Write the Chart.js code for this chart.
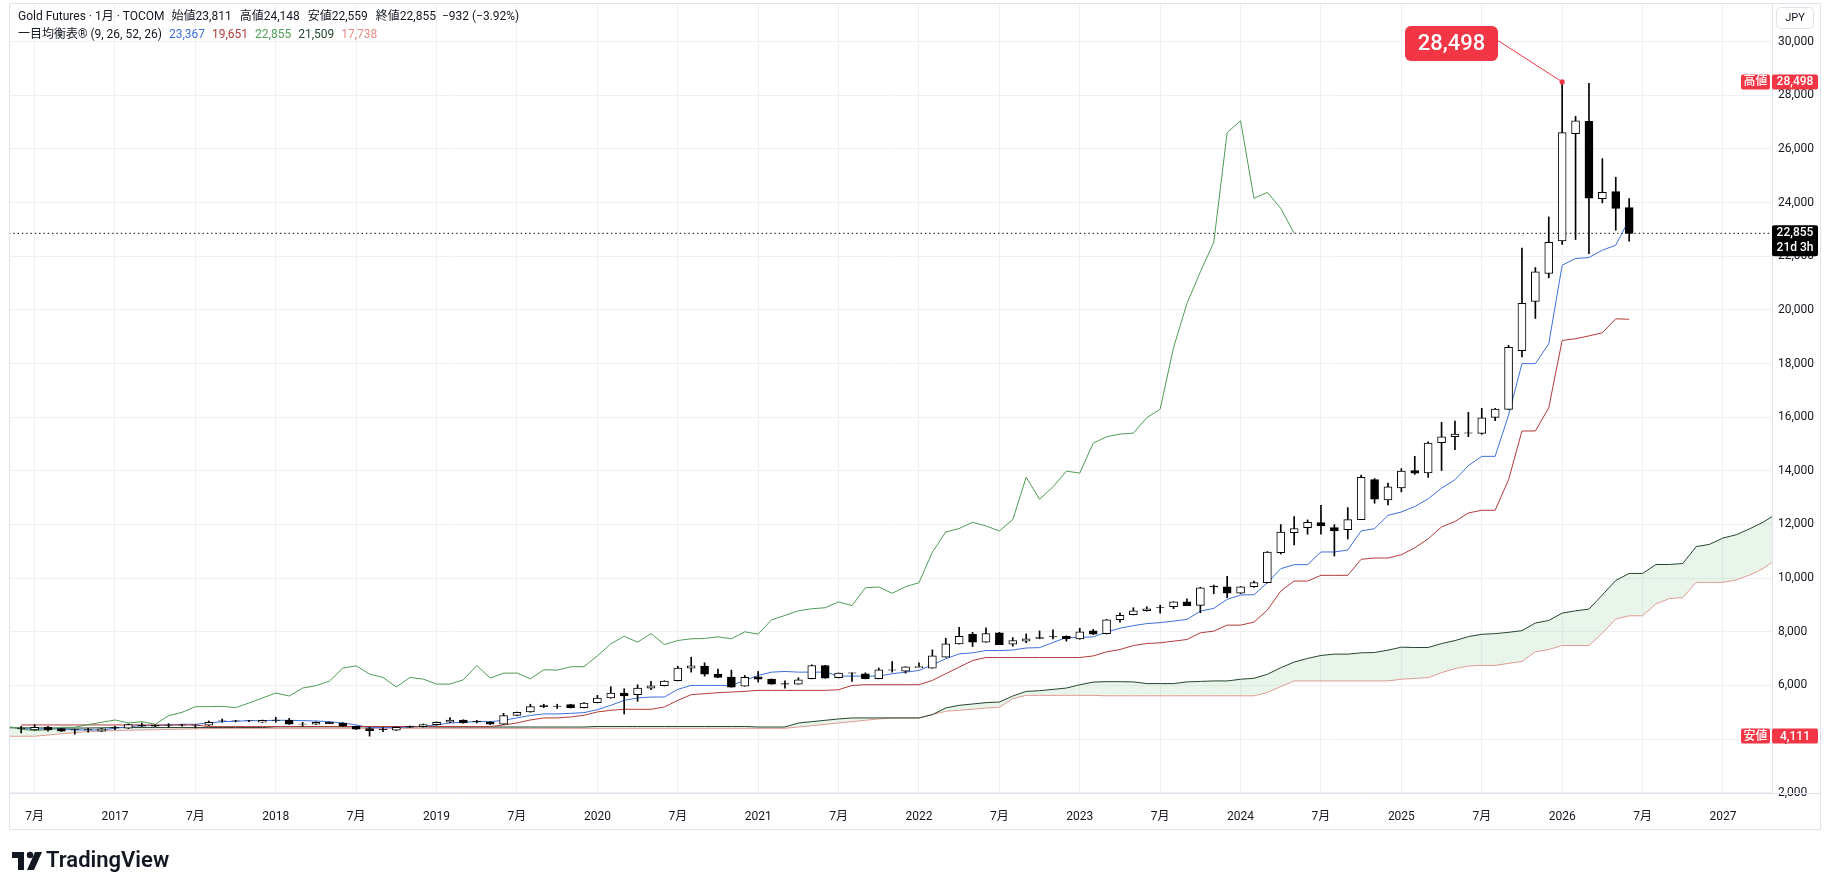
<!DOCTYPE html>
<html><head><meta charset="utf-8">
<script src="https://cdn.jsdelivr.net/npm/chart.js@4.4.1/dist/chart.umd.min.js"></script>
<style>html,body{margin:0;padding:0;background:#fff;overflow:hidden}</style>
</head><body><canvas id="c" width="1825" height="891"></canvas>
<script>
// ---------- DATA ----------
const candleMonths = [
'2016-06','2016-07','2016-08','2016-09','2016-10','2016-11','2016-12',
'2017-01','2017-02','2017-03','2017-04','2017-05','2017-06','2017-07','2017-08','2017-09','2017-10','2017-11','2017-12',
'2018-01','2018-02','2018-03','2018-04','2018-05','2018-06','2018-07','2018-08','2018-09','2018-10','2018-11','2018-12',
'2019-01','2019-02','2019-03','2019-04','2019-05','2019-06','2019-07','2019-08','2019-09','2019-10','2019-11','2019-12',
'2020-01','2020-02','2020-03','2020-04','2020-05','2020-06','2020-07','2020-08','2020-09','2020-10','2020-11','2020-12',
'2021-01','2021-02','2021-03','2021-04','2021-05','2021-06','2021-07','2021-08','2021-09','2021-10','2021-11','2021-12',
'2022-01','2022-02','2022-03','2022-04','2022-05','2022-06','2022-07','2022-08','2022-09','2022-10','2022-11','2022-12',
'2023-01','2023-02','2023-03','2023-04','2023-05','2023-06','2023-07','2023-08','2023-09','2023-10','2023-11','2023-12',
'2024-01','2024-02','2024-03','2024-04','2024-05','2024-06','2024-07','2024-08','2024-09','2024-10','2024-11','2024-12',
'2025-01','2025-02','2025-03','2025-04','2025-05','2025-06','2025-07','2025-08','2025-09','2025-10','2025-11','2025-12',
'2026-01','2026-02','2026-03','2026-04','2026-05','2026-06'];

const open = [
4390,4341,4440,4390,4350,4350,4292,
4425,4403,4514,4514,4524,4524,4524,4514,4685,4685,4685,4626,
4710,4700,4562,4552,4626,4601,4477,4390,4363,4329,4477,4465,
4539,4626,4712,4660,4638,4552,4885,5009,5245,5231,5283,5172,
5357,5531,5717,5655,5902,5989,6175,6645,6719,6422,6311,5976,
6323,6237,6065,6051,6249,6744,6286,6469,6435,6249,6581,6534,
6660,6645,7054,7549,7908,7611,7957,7536,7648,7784,7822,7834,
7738,8032,7925,8447,8634,8784,8906,8933,9120,8983,9700,9680,
9435,9680,9830,10950,11697,11883,12070,11883,11809,12182,13676,12920,
13360,14010,13925,15052,15275,15415,15398,15992,16289,18478,20313,21356,
22572,26572,27031,24150,24411,23811];
const high = [
4477,4539,4477,4400,4370,4403,4400,
4477,4560,4601,4530,4576,4550,4530,4675,4750,4700,4700,4710,
4811,4774,4626,4640,4640,4610,4490,4440,4428,4460,4490,4560,
4640,4800,4720,4700,4650,4960,5010,5300,5300,5300,5300,5360,
5630,5952,5877,6026,6150,6175,6719,7054,6843,6608,6571,6373,
6521,6240,6175,6286,6770,6750,6465,6470,6470,6650,6893,6700,
6843,7326,7759,8168,7982,8143,7980,7784,7921,8032,8069,7850,
8131,8090,8460,8709,8896,8933,8995,9120,9232,9660,9740,10066,
9690,9892,10990,11996,12294,12170,12718,11996,12630,13838,13714,13539,
14087,14540,15083,15807,15856,16178,16330,16330,18680,22300,21580,23467,
28498,27218,28447,25640,24945,24148];
const low = [
4230,4330,4292,4280,4180,4255,4280,
4353,4390,4470,4465,4440,4480,4415,4505,4626,4640,4650,4620,
4626,4550,4477,4545,4570,4470,4360,4111,4280,4320,4430,4450,
4520,4610,4590,4600,4540,4545,4870,5000,5172,5140,5160,5160,
5350,5525,4937,5407,5840,5980,6170,6496,6348,6290,5930,5970,
6125,6045,5902,6045,6245,6270,6280,6150,6245,6245,6496,6460,
6660,6640,7050,7540,7450,7605,7520,7462,7590,7740,7738,7650,
7720,7900,7920,8360,8630,8770,8696,8858,8970,8710,9418,9269,
9418,9650,9820,10900,11236,11635,11635,10825,11460,12180,12792,12730,
13216,13865,13751,14013,14792,15275,15360,15870,16285,18244,19679,21194,
22436,22622,22100,23988,22970,22559];
const close = [
4378,4440,4341,4292,4341,4341,4378,
4415,4539,4477,4477,4514,4514,4514,4626,4675,4675,4675,4700,
4700,4552,4552,4626,4576,4477,4366,4316,4353,4440,4440,4539,
4626,4712,4601,4650,4552,4873,4997,5208,5209,5221,5172,5345,
5531,5717,5605,5902,5989,6162,6645,6732,6422,6298,5939,6298,
6237,6051,6051,6212,6744,6274,6459,6459,6249,6583,6571,6694,
6700,7103,7549,7834,7611,7933,7524,7675,7738,7750,7812,7738,
8000,7912,8447,8609,8784,8858,8896,9113,8976,9642,9671,9435,
9680,9830,10970,11720,11850,12080,11946,11759,12182,13760,12940,13400,
13990,13915,15030,15270,15370,15405,15980,16300,18600,20240,21420,22520,
26609,27050,24160,24379,23787,22855];

// 転換線 (9) and 基準線 (26), same months as candles
const tenkan = [
4378,4378,4378,4378,4341,4341,4341,
4403,4465,4502,4502,4527,4552,4552,4601,4650,4663,4688,4688,
4700,4700,4688,4675,4650,4601,4527,4428,4428,4428,4453,4477,
4527,4601,4626,4650,4650,4700,4790,4880,4937,4937,4960,4986,
5097,5258,5444,5531,5568,5568,5853,6001,6001,6001,6001,6187,
6373,6496,6521,6496,6496,6496,6348,6348,6348,6348,6434,6496,
6558,6769,6992,7177,7215,7301,7302,7320,7395,7410,7600,7790,
7790,7810,7985,8135,8230,8305,8340,8398,8460,8771,8871,9207,
9369,9381,9829,10352,10502,10502,10975,10975,11049,11759,11846,12340,
12466,12670,12958,13355,13666,14195,14540,14540,16079,17996,17996,18738,
21666,21914,21951,22225,22411,23367];
const kijun = [
4527,4527,4527,4527,4527,4527,4527,
4527,4527,4527,4527,4527,4527,4527,4465,4465,4465,4465,4465,
4465,4465,4465,4465,4465,4465,4465,4465,4465,4465,4465,4465,
4465,4465,4465,4465,4465,4527,4601,4713,4788,4788,4825,4887,
5011,5073,5110,5110,5110,5197,5444,5655,5692,5729,5754,5778,
5816,5816,5816,5816,5816,5816,5840,6001,6026,6026,6026,6026,
6026,6187,6435,6682,6930,7040,7040,7040,7040,7040,7040,7040,
7040,7100,7250,7339,7488,7563,7588,7650,7712,7962,8024,8248,
8248,8360,8808,9518,9892,9892,10104,10104,10104,10702,10750,10750,
10870,11131,11465,11910,12110,12430,12530,12530,13666,15485,15485,16351,
18862,18924,19030,19147,19666,19651];

// 先行スパン (plotted 25 months ahead)
const cloudMonths = ['2016-05'].concat(candleMonths, [
'2026-07','2026-08','2026-09','2026-10','2026-11','2026-12',
'2027-01','2027-02','2027-03','2027-04','2027-05']);
const senkouA = [
4420,
4420,4415,4415,4410,4410,4415,4420,
4430,4430,4430,4430,4430,4430,4430,4430,4430,4430,4430,4430,
4460,4460,4460,4460,4460,4460,4460,4460,4460,4460,4460,4460,
4450,4450,4450,4450,4450,4450,4450,4450,4450,4450,4450,4450,
4470,4470,4470,4470,4470,4470,4470,4470,4470,4470,4470,4470,
4450,4450,4450,4600,4650,4700,4750,4788,4788,4788,4788,4788,
4788,4912,5160,5258,5308,5358,5382,5605,5778,5803,5853,5902,
6026,6125,6140,6140,6131,6069,6069,6069,6131,6150,6168,6168,
6230,6267,6415,6662,6871,7006,7117,7167,7167,7216,7228,7315,
7426,7413,7413,7561,7672,7820,7906,7931,7980,8042,8326,8424,
8696,8782,8844,9374,9916,10175,10175,10508,10508,10545,11174,11260,
11494,11618,11840,12086,12400];
const senkouB = [
4106,
4106,4106,4150,4200,4240,4280,4300,
4320,4330,4340,4350,4360,4370,4380,4390,4400,4400,4400,4400,
4400,4400,4400,4400,4400,4400,4400,4400,4400,4400,4400,4400,
4400,4400,4400,4400,4400,4400,4400,4400,4400,4400,4400,4400,
4400,4400,4400,4400,4400,4400,4400,4400,4400,4400,4400,4400,
4400,4400,4400,4450,4500,4550,4600,4650,4700,4750,4788,4788,
4788,4912,5036,5073,5110,5160,5184,5506,5630,5630,5630,5630,
5630,5630,5613,5613,5613,5613,5613,5613,5613,5613,5613,5613,
5613,5613,5736,5958,6168,6168,6168,6168,6168,6168,6168,6168,
6230,6260,6291,6476,6624,6723,6747,6747,6821,6895,7253,7339,
7487,7487,7487,7956,8474,8597,8597,9041,9238,9275,9843,9843,
9843,9929,10115,10361,10700];
const chikouShift = 25;
const legendSpanA = 21509, legendSpanB = 17738;

const xTickMonths = ['2016-07','2017-01','2017-07','2018-01','2018-07','2019-01','2019-07','2020-01','2020-07','2021-01','2021-07',
'2022-01','2022-07','2023-01','2023-07','2024-01','2024-07','2025-01','2025-07','2026-01','2026-07','2027-01'];
const xTickLabels = ['7月','2017','7月','2018','7月','2019','7月','2020','7月','2021','7月',
'2022','7月','2023','7月','2024','7月','2025','7月','2026','7月','2027'];
const yTicks = [2000,4000,6000,8000,10000,12000,14000,16000,18000,20000,22000,24000,26000,28000,30000];

// ---------- helpers ----------
const mx = s => { const [y,m] = s.split('-').map(Number); return (y-2017)*12 + (m-1); };
const fmt = v => Math.round(v).toLocaleString('en-US');
const X_MIN = -7.91, X_MAX = 123.66, Y_MIN = 1990, Y_MAX = 31403;
const FONT = 'Roboto, "Noto Sans CJK JP", sans-serif';
const RED = '#f23645', INK = '#131722', GRID = '#eff0f3';
const C_TEN = '#3f6fdc', C_KIJ = '#b23a3a', C_CHI = '#4f9d55', C_SA = '#25452f', C_SB = '#e59d97';

Chart.defaults.font.family = FONT;
Chart.defaults.color = INK;

const n = close.length;
const bodyColors = close.map((c,i) => c < open[i] ? '#000000' : '#ffffff');
const maxHigh = Math.max(...high), iMax = high.indexOf(maxHigh);
const minLow = Math.min(...low);

const lineDs = (label, pts, color, extra) => Object.assign({
  type:'line', label, data: pts, borderColor: color, borderWidth: 1, pointRadius: 0,
  tension: 0, fill: false, clip: 0, order: 5
}, extra || {});

const datasets = [
  lineDs('先行スパン1', cloudMonths.map((m,i)=>({x:mx(m), y:senkouA[i]})), C_SA,
    {fill:{target:'+1', above:'rgba(76,175,80,0.12)', below:'rgba(242,54,69,0.10)'}, order: 7}),
  lineDs('先行スパン2', cloudMonths.map((m,i)=>({x:mx(m), y:senkouB[i]})), C_SB, {order: 7}),
  lineDs('遅行スパン', candleMonths.map((m,i)=>({x:mx(m)-chikouShift, y:close[i]})), C_CHI),
  lineDs('基準線', candleMonths.map((m,i)=>({x:mx(m), y:kijun[i]})), C_KIJ),
  lineDs('転換線', candleMonths.map((m,i)=>({x:mx(m), y:tenkan[i]})), C_TEN),
  lineDs('終値ライン', [{x:X_MIN, y:close[n-1]}, {x:X_MAX, y:close[n-1]}], '#000', {borderDash:[1.4,2.9], order: 6}),
  { type:'bar', label:'ヒゲ', data: candleMonths.map((m,i)=>({x:mx(m), y:[low[i], high[i]]})),
    backgroundColor:'#000', borderWidth:0, barThickness:1, grouped:false, order:2, clip:0 },
  { type:'bar', label:'実体', data: candleMonths.map((m,i)=>({x:mx(m), y:[open[i], close[i]]})),
    backgroundColor: bodyColors, borderColor:'#000', borderWidth:1, borderSkipped:false,
    barThickness:8, grouped:false, order:1, clip:0 },
  lineDs('高値点', [{x:mx(candleMonths[iMax]), y:maxHigh}], RED, {pointRadius:2.6, pointBackgroundColor:RED, pointBorderWidth:0, showLine:false, order:0})
];

function rr(ctx,x,y,w,h,r){ ctx.beginPath(); ctx.roundRect(x,y,w,h,r); }

const overlay = {
  id:'overlay',
  afterDraw(chart){
    const {ctx} = chart; const xs = chart.scales.x, ys = chart.scales.y;
    ctx.save();
    // frame
    ctx.strokeStyle = '#e0e3eb'; ctx.lineWidth = 1;
    ctx.beginPath();
    ctx.moveTo(9.5,3.5); ctx.lineTo(1820.5,3.5); ctx.lineTo(1820.5,829.5); ctx.lineTo(9.5,829.5); ctx.closePath();
    ctx.moveTo(9.5,793.5); ctx.lineTo(1820.5,793.5);
    ctx.moveTo(1772.5,3.5); ctx.lineTo(1772.5,793.5);
    ctx.stroke();

    // legend
    ctx.textBaseline = 'middle'; ctx.textAlign = 'left';
    ctx.font = '12px ' + FONT;
    const chg = close[n-1]-close[n-2], pct = chg/close[n-2]*100;
    const sgn = v => (v<0?'−':'+');
    const l1 = [['Gold Futures · 1月 · TOCOM', INK, 7],
      ['始値'+fmt(open[n-1]), INK, 8], ['高値'+fmt(high[n-1]), INK, 8], ['安値'+fmt(low[n-1]), INK, 8],
      ['終値'+fmt(close[n-1]), INK, 6], [sgn(chg)+fmt(Math.abs(chg))+' ('+sgn(chg)+Math.abs(pct).toFixed(2)+'%)', INK, 0]];
    let xx = 18;
    for (const [t,c,g] of l1){ ctx.fillStyle=c; ctx.fillText(t,xx,17); xx += ctx.measureText(t).width + g; }
    const l2 = [['一目均衡表® (9, 26, 52, 26)', INK, 7], [fmt(tenkan[n-1]), C_TEN, 7], [fmt(kijun[n-1]), C_KIJ, 7],
      [fmt(close[n-1]), C_CHI, 7], [fmt(legendSpanA), C_SA, 7], [fmt(legendSpanB), '#e88c86', 0]];
    xx = 18;
    for (const [t,c,g] of l2){ ctx.fillStyle=c; ctx.fillText(t,xx,35); xx += ctx.measureText(t).width + g; }

    // JPY button
    ctx.fillStyle = '#fff'; ctx.strokeStyle = '#e0e3eb';
    rr(ctx,1776.5,7.5,37,21,4); ctx.fill(); ctx.stroke();
    ctx.fillStyle = INK; ctx.textAlign = 'center'; ctx.font = '11px ' + FONT;
    ctx.fillText('JPY', 1795, 18.5);

    // axis price labels
    const tag = (label, val, bg) => {
      const yy = ys.getPixelForValue(val);
      ctx.fillStyle = bg;
      rr(ctx,1741,yy-7.5,29,15,2); ctx.fill();
      rr(ctx,1772,yy-7.5,46,15,2); ctx.fill();
      ctx.fillStyle = '#fff'; ctx.font = '500 12px ' + FONT; ctx.textAlign = 'center';
      ctx.fillText(label, 1755.5, yy+0.5);
      ctx.fillText(fmt(val), 1795, yy+0.5);
    };
    tag('高値', maxHigh, RED);
    tag('安値', minLow, RED);
    // current price
    const yc = ys.getPixelForValue(close[n-1]);
    ctx.fillStyle = '#000';
    rr(ctx,1772,yc-8,46,31,2); ctx.fill();
    ctx.fillStyle = '#fff'; ctx.textAlign = 'center'; ctx.font = '500 12px ' + FONT;
    ctx.fillText(fmt(close[n-1]), 1795, yc);
    ctx.fillText('21d 3h', 1795, yc+15);

    // callout
    const px = xs.getPixelForValue(mx(candleMonths[iMax])), py = ys.getPixelForValue(maxHigh);
    ctx.strokeStyle = RED; ctx.lineWidth = 1;
    ctx.beginPath(); ctx.moveTo(1494,38); ctx.lineTo(px,py); ctx.stroke();
    ctx.fillStyle = RED; rr(ctx,1405,26,93,35,6); ctx.fill();
    ctx.fillStyle = '#fff'; ctx.font = '500 22px ' + FONT; ctx.textAlign = 'center';
    ctx.fillText(fmt(maxHigh), 1451.5, 44);

    // TradingView logo
    ctx.fillStyle = '#131722';
    ctx.fillRect(12,852,12,6); ctx.fillRect(18,852,6,18);
    ctx.beginPath(); ctx.arc(30,855,3.2,0,Math.PI*2); ctx.fill();
    ctx.beginPath(); ctx.moveTo(35,852); ctx.lineTo(42,852); ctx.lineTo(34,870); ctx.lineTo(27,870); ctx.closePath(); ctx.fill();
    ctx.textAlign = 'left'; ctx.font = '600 22px ' + FONT;
    ctx.fillText('TradingView', 46, 861);
    ctx.restore();
  }
};

new Chart(document.getElementById('c'), {
  type:'bar',
  data:{ datasets },
  options:{
    responsive:false, animation:false, devicePixelRatio:1,
    layout:{ padding:{ left:9, top:3, right:4, bottom:61 } },
    plugins:{ legend:{display:false}, tooltip:{enabled:false} },
    scales:{
      x:{ type:'linear', min:X_MIN, max:X_MAX, offset:false,
          grid:{ color:GRID, drawTicks:false, offset:false }, border:{display:false},
          afterBuildTicks: s => { s.ticks = xTickMonths.map(m => ({value: mx(m)})); },
          afterFit: s => { s.height = 37; s.paddingLeft = 0; s.paddingRight = 0; },
          ticks:{ autoSkip:false, maxRotation:0, padding:17, color:INK, font:{size:12},
                  callback:(v,i) => xTickLabels[i] } },
      y:{ type:'linear', position:'right', min:Y_MIN, max:Y_MAX,
          grid:{ color:GRID, drawTicks:false }, border:{display:false},
          afterBuildTicks: s => { s.ticks = yTicks.map(v => ({value:v})); },
          afterFit: s => { s.width = 49; s.paddingTop = 0; s.paddingBottom = 0; },
          ticks:{ padding:6, color:INK, font:{size:12}, callback: v => fmt(v) } }
    }
  },
  plugins:[overlay]
});
</script></body></html>
